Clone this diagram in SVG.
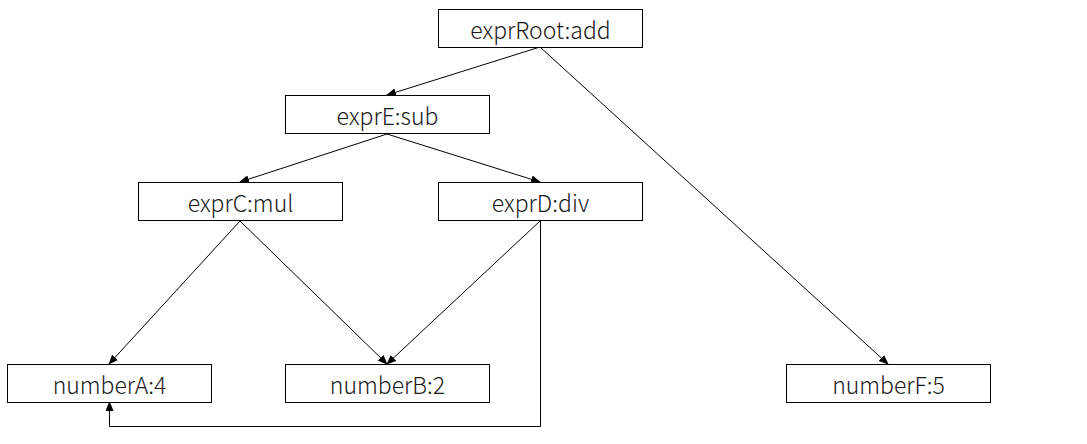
<svg xmlns="http://www.w3.org/2000/svg" width="1087" height="444" viewBox="0 0 1087 444">
<style>
.box{fill:#fff;stroke:#000;stroke-width:1}
.lbl{font-family:"Noto Sans CJK SC","Noto Sans",sans-serif;font-weight:300;font-size:23px;fill:#1a1a1a;text-anchor:middle;dominant-baseline:central}
.edge{fill:none;stroke:#000;stroke-width:1}
</style>
<defs>
<marker id="arr" markerWidth="10" markerHeight="8" refX="9" refY="4" orient="auto" markerUnits="userSpaceOnUse">
<path d="M0,0 L10,4 L0,8 z" fill="#000"/>
</marker>
</defs>
<rect width="1087" height="444" fill="#fff"/>
<g id="connectors">
<path class="edge" d="M540,47 L387,95" marker-end="url(#arr)"/>
<path class="edge" d="M540,47 L888,364" marker-end="url(#arr)"/>
<path class="edge" d="M387,134 L240,182" marker-end="url(#arr)"/>
<path class="edge" d="M387,134 L540,182" marker-end="url(#arr)"/>
<path class="edge" d="M240,221 L109,364" marker-end="url(#arr)"/>
<path class="edge" d="M240,221 L387,364" marker-end="url(#arr)"/>
<path class="edge" d="M540,221 L387,364" marker-end="url(#arr)"/>
<path class="edge" d="M540.5,221 L540.5,426.5 L109.5,426.5 L109.5,402" marker-end="url(#arr)"/>
</g>
<g id="exprRoot"><rect class="box" x="438.5" y="9.5" width="204" height="38"/><text class="lbl" x="540.5" y="29">exprRoot:add</text></g>
<g id="exprE"><rect class="box" x="285.5" y="95.5" width="204" height="38"/><text class="lbl" x="387.5" y="115">exprE:sub</text></g>
<g id="exprC"><rect class="box" x="138.5" y="182.5" width="204" height="38"/><text class="lbl" x="240.5" y="202">exprC:mul</text></g>
<g id="exprD"><rect class="box" x="438.5" y="182.5" width="204" height="38"/><text class="lbl" x="540.5" y="202">exprD:div</text></g>
<g id="numberA"><rect class="box" x="7.5" y="364.5" width="204" height="38"/><text class="lbl" x="109.5" y="384">numberA:4</text></g>
<g id="numberB"><rect class="box" x="285.5" y="364.5" width="204" height="38"/><text class="lbl" x="387.5" y="384">numberB:2</text></g>
<g id="numberF"><rect class="box" x="786.5" y="364.5" width="204" height="38"/><text class="lbl" x="888.5" y="384">numberF:5</text></g>
</svg>
